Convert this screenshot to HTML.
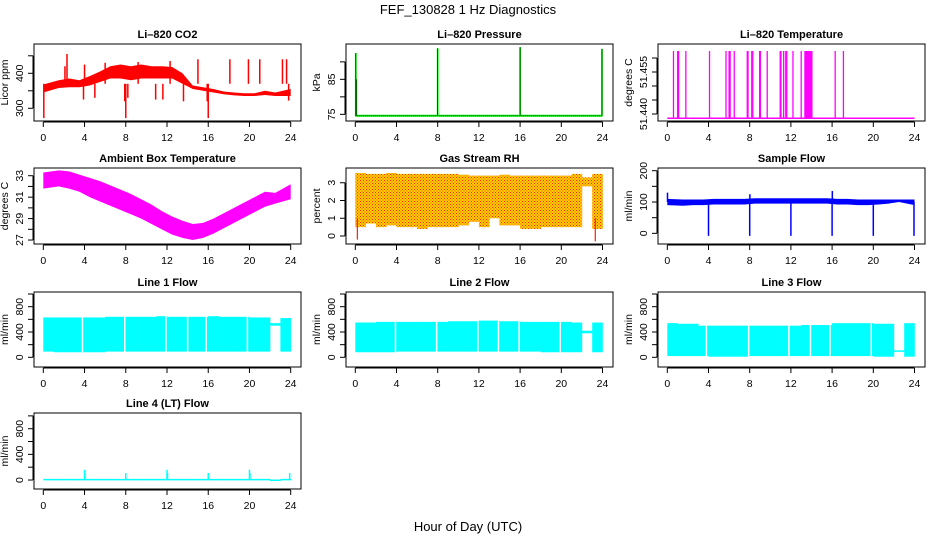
<!DOCTYPE html>
<html><head><meta charset="utf-8"><style>
body{margin:0;background:#fff;}
svg{display:block;font-family:"Liberation Sans",sans-serif;}
.tk{font-size:10.5px;}
.tt{font-size:11px;font-weight:bold;}
</style></head><body>
<svg id="c" width="936" height="540" viewBox="0 0 936 540">
<defs>
<pattern id="rhpat" width="3" height="3" patternUnits="userSpaceOnUse">
<rect width="3" height="3" fill="#ffd200"/><rect x="0" y="0" width="1" height="1" fill="#ff2000"/><rect x="1.5" y="1.5" width="1" height="1" fill="#ff2000"/>
</pattern>
</defs>
<text x="468" y="14" text-anchor="middle" font-size="13">FEF_130828  1 Hz Diagnostics</text>
<text x="468" y="531" text-anchor="middle" font-size="13">Hour of Day (UTC)</text>
</svg>
<script>
// ---- data ----
const hours=[0,1,2,3,4,5,6,7,8,9,10,11,12,13,14,15,16,17,18,19,20,21,22,23];
const xTicks=[0,4,8,12,16,20,24];
const co2Lo=[345,358,360,360,365,375,385,385,380,385,385,385,385,370,355,350,345,340,337,335,335,338,335,335];
const co2Hi=[368,380,385,380,392,405,420,425,420,425,420,420,418,400,365,360,355,348,345,343,343,350,345,355];
const co2SpikeT=[0.05,2.1,2.3,3.9,4.0,5.0,6.0,7.9,8.0,8.2,9.2,10.9,11.6,12.3,13.6,15.0,15.9,16.0,18.1,19.9,21.0,23.2,23.6,23.8];
const co2SpikeV=[272,420,455,325,425,330,430,320,272,330,432,325,325,435,320,440,320,272,440,440,440,440,440,322];
const presBase=74.6;
const presSpikeT=[0.05,0.1,8.0,16.0,23.95];
const presSpikeV=[92.5,85,93.9,94.2,93.7];
const tempBase=51.4385, tempTop=51.4625;
const tempSpikeT=[0.6,1.0,1.1,1.8,4.1,5.7,6.0,6.1,6.5,8.2,8.3,9.7,11.3,11.5,11.6,12.2,13.0,16.3,17.1];
const tempBlockStart=[7.7,8.9,10.9,13.3];
const tempBlockEnd=[7.9,9.1,11.1,14.1];
const ambLo=[31.8,32.0,31.8,31.5,31.0,30.6,30.2,29.8,29.4,29.0,28.5,28.0,27.5,27.2,27.0,27.2,27.6,28.1,28.6,29.1,29.6,30.1,30.4,30.8];
const ambHi=[33.3,33.5,33.4,33.1,32.8,32.5,32.1,31.7,31.3,30.8,30.3,29.7,29.2,28.8,28.5,28.6,29.0,29.5,30.0,30.5,31.0,31.5,31.4,32.2];
const rhLo=[0.5,0.7,0.5,0.6,0.5,0.5,0.4,0.5,0.5,0.5,0.6,0.8,0.5,1.0,0.6,0.6,0.4,0.4,0.5,0.5,0.5,0.5,2.8,0.4];
const rhHi=[3.55,3.5,3.5,3.55,3.5,3.5,3.5,3.5,3.5,3.5,3.45,3.4,3.4,3.4,3.45,3.4,3.4,3.4,3.4,3.4,3.4,3.5,3.3,3.5];
const rhSpikeT=[0.2,23.3];
const rhSpikeV=[-0.2,-0.3];
const sfLo=[90,88,90,90,92,92,92,92,95,95,95,95,95,95,95,95,92,92,90,90,92,95,100,90];
const sfHi=[110,108,108,108,110,110,110,110,112,112,112,112,112,112,112,112,110,110,108,108,108,108,108,108];
const sfSpikeT=[0.02,4.0,8.0,8.02,12.0,16.0,16.02,20.0,23.95];
const sfSpikeV=[130,-8,-8,125,-8,-8,135,-8,-8];
const l1Lo=[90,80,80,80,80,80,90,90,90,90,90,90,90,90,90,90,90,90,90,90,90,90,500,90];
const l1Hi=[630,630,630,630,630,630,640,640,640,640,640,650,640,640,640,640,650,640,640,640,630,630,540,620];
const l1Gaps=[3.8,7.9,11.9,14.0,15.8,19.8];
const l2Lo=[80,80,80,80,90,90,90,90,90,90,90,90,90,90,90,90,90,90,80,80,80,80,380,80];
const l2Hi=[550,550,560,560,560,560,560,560,560,570,570,570,580,580,570,570,560,560,560,560,560,550,420,550];
const l2Gaps=[3.9,7.9,11.9,13.9,15.9,19.9];
const l3Lo=[20,20,20,20,10,10,10,10,20,20,20,20,20,20,20,20,20,20,20,20,10,10,100,10];
const l3Hi=[540,530,530,500,500,500,500,500,500,500,500,500,500,510,510,510,540,540,540,540,530,530,110,540];
const l3Gaps=[3.8,7.9,11.8,13.9,15.8,19.8];
const l4Base=[10,10,10,10,10,10,10,10,10,10,10,10,10,10,10,10,10,10,10,10,10,10,0,10];
const l4SpikeT=[4.0,4.05,8.0,12.0,12.05,16.0,20.0,20.05,23.9];
const l4SpikeV=[160,110,110,160,110,110,160,110,110];

// ---- layout ----
const NS="http://www.w3.org/2000/svg";
const svg=document.getElementById('c');
const cols=[{l:34,r:301,x0:43.3,x24:290.7},{l:346,r:613,x0:355.3,x24:602.5},{l:658,r:925,x0:667.3,x24:914.5}];
const rows=[{t:44,b:121},{t:168,b:244},{t:292,b:367},{t:413,b:489}];
function el(tag,attrs,parent){const e=document.createElementNS(NS,tag);for(const k in attrs)e.setAttribute(k,attrs[k]);(parent||svg).appendChild(e);return e;}

function panel(name,c,r,title,ylab,ymin,ymax,yticks,ylabels){
  const C=cols[c],R=rows[r];
  const g=el('g',{});
  
  
  const xs=h=>C.x0+(C.x24-C.x0)*h/24;
  const ys=v=>R.b-(v-ymin)/(ymax-ymin)*(R.b-R.t);
  const t=el('text',{x:(C.l+C.r)/2,y:R.t-6,'text-anchor':'middle',class:'tt'},g);t.textContent=title;
  
  
  const yl=el('text',{transform:`translate(${C.l-26},${(R.t+R.b)/2}) rotate(-90)`,'text-anchor':'middle',class:'tk'},g);yl.textContent=ylab;
  
  
  const plot=el('g',{},g);
  
  
  const ax=el('g',{stroke:'#000','stroke-width':1,fill:'none'},g);
  el('rect',{x:C.l,y:R.t,width:C.r-C.l,height:R.b-R.t},ax);
  el('line',{x1:xs(0),x2:xs(24),y1:R.b+1,y2:R.b+1},ax);
  xTicks.forEach(h=>{el('line',{x1:xs(h),x2:xs(h),y1:R.b+1,y2:R.b+6},ax);
    const tx=el('text',{x:xs(h),y:R.b+20,'text-anchor':'middle',class:'tk',stroke:'none',fill:'#000'},g);tx.textContent=h;});
  el('line',{x1:C.l-1,x2:C.l-1,y1:ys(yticks[0]),y2:ys(yticks[yticks.length-1])},ax);
  yticks.forEach(v=>{el('line',{x1:C.l-6,x2:C.l-1,y1:ys(v),y2:ys(v)},ax);});
  ylabels.forEach(v=>{const tx=el('text',{transform:`translate(${C.l-11},${ys(v)}) rotate(-90)`,'text-anchor':'middle',class:'tk'},g);tx.textContent=v;});
  return {plot,xs,ys,C,R};
}
function band(p,lo,hi,fill){hours.forEach((h,i)=>{el('rect',{x:p.xs(h),y:p.ys(hi[i]),width:p.xs(h+1)-p.xs(h)+0.3,height:Math.max(1.5,p.ys(lo[i])-p.ys(hi[i])),fill:fill},p.plot);});}
function smoothBand(p,lo,hi,fill){
  const top=[],bot=[];
  hours.forEach((h,i)=>{const x=i===0?p.xs(0):(i===hours.length-1?p.xs(24):p.xs(h+0.5));top.push(x+','+p.ys(hi[i]));bot.unshift(x+','+p.ys(lo[i]));});
  el('polygon',{points:top.concat(bot).join(' '),fill:fill},p.plot);
}
function spikes(p,T,V,base,color,w){T.forEach((t,i)=>{el('line',{x1:p.xs(t),x2:p.xs(t),y1:p.ys(base),y2:p.ys(V[i]),stroke:color,'stroke-width':w||1.5},p.plot);});}
function gaps(p,G,lo,hi){G.forEach(t=>{el('line',{x1:p.xs(t),x2:p.xs(t),y1:p.ys(hi),y2:p.ys(lo),stroke:'#fff','stroke-width':1.5},p.plot);});}

// CO2
let p=panel('co2',0,0,'Li\u2013820 CO2','Licor ppm',263.7,483.7,[300,350,400,450],[300,400]);
smoothBand(p,co2Lo,co2Hi,'#ff0000');spikes(p,co2SpikeT,co2SpikeV,370,'#ff0000',1.5);
// Pressure
p=panel('pressure',1,0,'Li\u2013820 Pressure','kPa',73.1,95.1,[75,80,85,90],[75,85]);
el('line',{x1:p.xs(0),x2:p.xs(24),y1:p.ys(presBase),y2:p.ys(presBase),stroke:'#00ff00','stroke-width':2},p.plot);
el('line',{x1:p.xs(0),x2:p.xs(24),y1:p.ys(presBase),y2:p.ys(presBase),stroke:'#000','stroke-width':1,'stroke-dasharray':'1,1'},p.plot);
spikes(p,presSpikeT,presSpikeV,presBase,'#00ff00',1.8);
spikes(p,presSpikeT,presSpikeV,presBase,'#000',0.6);
// Temperature
p=panel('li820-temperature',2,0,'Li\u2013820 Temperature','degrees C',51.4375,51.465,[51.440,51.445,51.450,51.455,51.460],['51.440','51.455']);
el('line',{x1:p.xs(0),x2:p.xs(24),y1:p.ys(tempBase),y2:p.ys(tempBase),stroke:'#ff00ff','stroke-width':1.5},p.plot);
spikes(p,tempSpikeT,tempSpikeT.map(()=>tempTop),tempBase,'#ff00ff',1.3);
tempBlockStart.forEach((s,i)=>{el('rect',{x:p.xs(s),y:p.ys(tempTop),width:p.xs(tempBlockEnd[i])-p.xs(s),height:p.ys(tempBase)-p.ys(tempTop),fill:'#ff00ff'},p.plot);});
// Ambient
p=panel('ambient-temperature',0,1,'Ambient Box Temperature','degrees C',26.63,33.72,[27,28,29,30,31,32,33],[27,29,31,33]);
smoothBand(p,ambLo,ambHi,'#ff00ff');
// RH
p=panel('gas-stream-rh',1,1,'Gas Stream RH','percent',-0.45,3.83,[0,1,2,3],[0,1,2,3]);
band(p,rhLo,rhHi,'url(#rhpat)');spikes(p,rhSpikeT,rhSpikeV,1,'#ff2000',1.2);
// Sample flow
p=panel('sample-flow',2,1,'Sample Flow','ml/min',-34,208.6,[0,50,100,150,200],[0,100,200]);
smoothBand(p,sfLo,sfHi,'#0000ff');spikes(p,sfSpikeT,sfSpikeV,100,'#0000ff',1.5);
// Line flows
const lt=[0,200,400,600,800,1000],ll=[0,400,800];
p=panel('line-1-flow',0,2,'Line 1 Flow','ml/min',-153,1032,lt,ll);band(p,l1Lo,l1Hi,'#00ffff');gaps(p,l1Gaps,80,660);
p=panel('line-2-flow',1,2,'Line 2 Flow','ml/min',-153,1032,lt,ll);band(p,l2Lo,l2Hi,'#00ffff');gaps(p,l2Gaps,70,590);
p=panel('line-3-flow',2,2,'Line 3 Flow','ml/min',-153,1032,lt,ll);band(p,l3Lo,l3Hi,'#00ffff');gaps(p,l3Gaps,0,550);
p=panel('line-4-flow',0,3,'Line 4 (LT) Flow','ml/min',-140,1045,lt,ll);
band(p,l4Base.map(v=>v-8),l4Base.map(v=>v+8),'#00ffff');spikes(p,l4SpikeT,l4SpikeV,10,'#00ffff',1.5);
</script>
</body></html>
